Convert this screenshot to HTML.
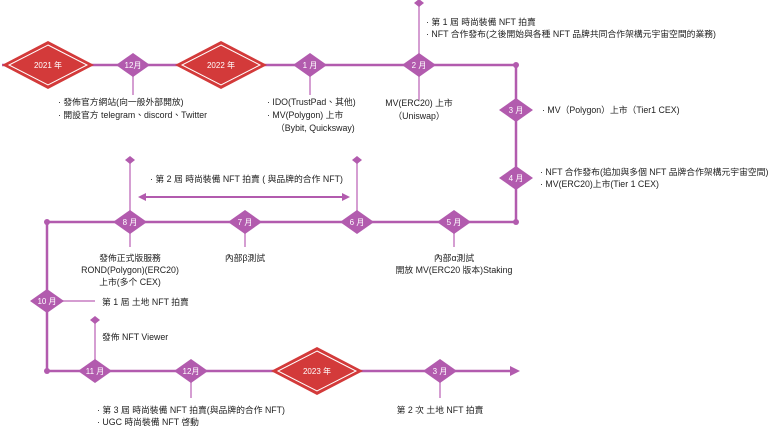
<!DOCTYPE html>
<html><head><meta charset="utf-8"><style>
html,body{margin:0;padding:0;background:#fff;}
svg{display:block;}
text{font-family:"Liberation Sans","Noto Sans CJK TC",sans-serif;font-size:8.8px;fill:#222;}
.w{fill:#fff;font-size:8px;}
</style></head><body>
<svg width="768" height="439" viewBox="0 0 768 439" xmlns="http://www.w3.org/2000/svg">
<defs>
<marker id="ah" markerWidth="8" markerHeight="8" refX="6" refY="4" orient="auto-start-reverse" markerUnits="userSpaceOnUse"><path d="M0,0 L8,4 L0,8 z" fill="#b25bae"/></marker>
</defs>
<g stroke="#b25bae" stroke-width="2.5" fill="none">
<path d="M2,65 H516 V222 H47 V371 H512"/>
</g>
<path d="M510,366 L520,371 L510,376 z" fill="#b25bae"/>
<g fill="#b25bae">
<circle cx="516" cy="65" r="3"/><circle cx="516" cy="222" r="3"/>
<circle cx="47" cy="222" r="3"/><circle cx="47" cy="371" r="3"/>
</g>
<g stroke="#c77dc2" stroke-width="1.5">
<line x1="133" y1="65" x2="133" y2="95"/>
<line x1="310" y1="65" x2="310" y2="95"/>
<line x1="419" y1="3" x2="419" y2="100"/>
<line x1="130" y1="160" x2="130" y2="247"/>
<line x1="357" y1="160" x2="357" y2="222"/>
<line x1="245" y1="222" x2="245" y2="247"/>
<line x1="454" y1="222" x2="454" y2="247"/>
<line x1="47" y1="301" x2="95" y2="301"/>
<line x1="95" y1="320" x2="95" y2="371"/>
<line x1="191" y1="371" x2="191" y2="398"/>
<line x1="440" y1="371" x2="440" y2="398"/>
</g>
<line x1="140" y1="197" x2="348" y2="197" stroke="#b25bae" stroke-width="2" marker-start="url(#ah)" marker-end="url(#ah)"/>
<g fill="#b25bae">
<path d="M419,-1 l5,4 l-5,4 l-5,-4z"/>
<path d="M130,156 l5,4 l-5,4 l-5,-4z"/>
<path d="M357,156 l5,4 l-5,4 l-5,-4z"/>
<path d="M95,316 l5,4 l-5,4 l-5,-4z"/>
</g>
<g fill="#b25bae">
<path d="M133,53 l17,12 l-17,12 l-17,-12z"/>
<path d="M310,53 l17,12 l-17,12 l-17,-12z"/>
<path d="M419,53 l17,12 l-17,12 l-17,-12z"/>
<path d="M516,98 l17,12 l-17,12 l-17,-12z"/>
<path d="M516,166 l17,12 l-17,12 l-17,-12z"/>
<path d="M454,210 l17,12 l-17,12 l-17,-12z"/>
<path d="M357,210 l17,12 l-17,12 l-17,-12z"/>
<path d="M245,210 l17,12 l-17,12 l-17,-12z"/>
<path d="M130,210 l17,12 l-17,12 l-17,-12z"/>
<path d="M47,289 l17,12 l-17,12 l-17,-12z"/>
<path d="M95,359 l17,12 l-17,12 l-17,-12z"/>
<path d="M191,359 l17,12 l-17,12 l-17,-12z"/>
<path d="M440,359 l17,12 l-17,12 l-17,-12z"/>
</g>
<g>
<path d="M48,41 l46,24 l-46,24 l-46,-24z" fill="#d33a3a"/>
<path d="M48,45 l39,20 l-39,20 l-39,-20z" fill="none" stroke="#fff" stroke-width="1"/>
<path d="M221,41 l46,24 l-46,24 l-46,-24z" fill="#d33a3a"/>
<path d="M221,45 l39,20 l-39,20 l-39,-20z" fill="none" stroke="#fff" stroke-width="1"/>
<path d="M317,347 l46,24 l-46,24 l-46,-24z" fill="#d33a3a"/>
<path d="M317,351 l39,20 l-39,20 l-39,-20z" fill="none" stroke="#fff" stroke-width="1"/>
</g>
<g text-anchor="middle">
<text class="w" x="48" y="68">2021 年</text>
<text class="w" x="221" y="68">2022 年</text>
<text class="w" x="317" y="374">2023 年</text>
<text class="w" x="133" y="68">12月</text>
<text class="w" x="310" y="68">1 月</text>
<text class="w" x="419" y="68">2 月</text>
<text class="w" x="516" y="113">3 月</text>
<text class="w" x="516" y="181">4 月</text>
<text class="w" x="454" y="225">5 月</text>
<text class="w" x="357" y="225">6 月</text>
<text class="w" x="245" y="225">7 月</text>
<text class="w" x="130" y="225">8 月</text>
<text class="w" x="47" y="304">10 月</text>
<text class="w" x="95" y="374">11 月</text>
<text class="w" x="191" y="374">12月</text>
<text class="w" x="440" y="374">3 月</text>
</g>
<text x="58" y="105">· 發佈官方網站(向一般外部開放)</text>
<text x="58" y="118">· 開設官方 telegram、discord、Twitter</text>
<text x="267" y="105">· IDO(TrustPad、其他)</text>
<text x="267" y="118">· MV(Polygon) 上市</text>
<text x="276" y="131">（Bybit, Quicksway)</text>
<text x="426" y="25">· 第 1 屆 時尚裝備 NFT 拍賣</text>
<text x="426" y="37">· NFT 合作發布(之後開始與各種 NFT 品牌共同合作架構元宇宙空間的業務)</text>
<text x="419" y="106" text-anchor="middle">MV(ERC20) 上市</text>
<text x="419" y="119" text-anchor="middle">（Uniswap）</text>
<text x="542" y="113">· MV（Polygon）上市（Tier1 CEX)</text>
<text x="540" y="175">· NFT 合作發布(追加與多個 NFT 品牌合作架構元宇宙空間)</text>
<text x="540" y="187">· MV(ERC20)上市(Tier 1  CEX)</text>
<text x="150" y="182">· 第 2 屆 時尚裝備 NFT 拍賣 ( 與品牌的合作 NFT)</text>
<text x="130" y="261" text-anchor="middle">發佈正式版服務</text>
<text x="130" y="273" text-anchor="middle">ROND(Polygon)(ERC20)</text>
<text x="130" y="285" text-anchor="middle">上市(多个 CEX)</text>
<text x="245" y="261" text-anchor="middle">內部β測試</text>
<text x="454" y="261" text-anchor="middle">內部α測試</text>
<text x="454" y="273" text-anchor="middle">開放 MV(ERC20 版本)Staking</text>
<text x="102" y="305">第 1 屆 土地 NFT 拍賣</text>
<text x="102" y="340">發佈 NFT Viewer</text>
<text x="97" y="413">· 第 3 屆 時尚裝備 NFT 拍賣(與品牌的合作 NFT)</text>
<text x="97" y="425">· UGC 時尚裝備 NFT 啓動</text>
<text x="440" y="413" text-anchor="middle">第 2 次 土地 NFT 拍賣</text>
</svg>
</body></html>
